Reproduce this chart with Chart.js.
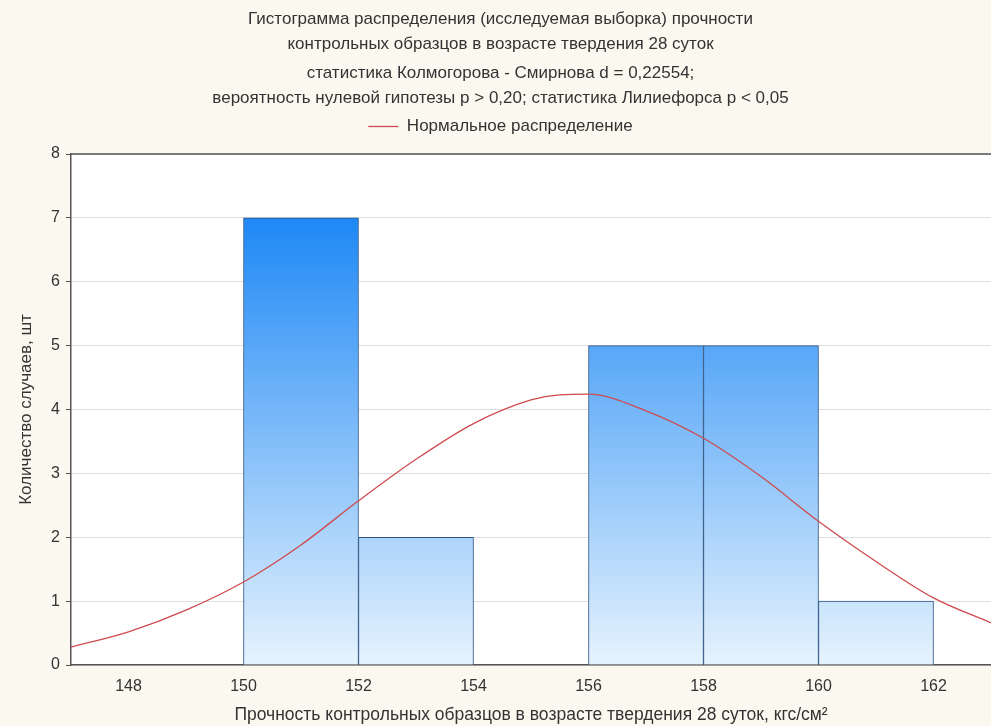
<!DOCTYPE html>
<html>
<head>
<meta charset="utf-8">
<script src="https://cdn.jsdelivr.net/npm/chart.js@4.4.1/dist/chart.umd.min.js"></script>
<style>
  html, body { margin: 0; padding: 0; background: #fbf8ef; }
  #wrap { width: 991px; height: 726px; }
</style>
</head>
<body>
<div id="wrap"><canvas id="hist" width="991" height="726"></canvas></div>
<script>
// histogram bins (centre of each 2-unit bin) and counts
const binCenters = [151, 153, 157, 159, 161];
const binCounts = [7, 2, 5, 5, 1];

// fitted normal curve
const curveX = [147, 148, 149, 150, 151, 152, 153, 154, 155, 155.5, 156, 157, 158, 159, 160, 161, 162, 163];
const curveY = [0.28, 0.52, 0.86, 1.30, 1.88, 2.57, 3.22, 3.78, 4.15, 4.23, 4.24, 3.98, 3.55, 2.95, 2.25, 1.62, 1.05, 0.66];

const xTicks = [148, 150, 152, 154, 156, 158, 160, 162];

const titleLines = [
    'Гистограмма распределения (исследуемая выборка) прочности',
    'контрольных образцов в возрасте твердения 28 суток'
];
const subtitleLines = [
    'статистика Колмогорова - Смирнова d = 0,22554;',
    'вероятность нулевой гипотезы p > 0,20; статистика Лилиефорса p < 0,05'
];

const FONT = 'Liberation Sans, Arial, sans-serif';
const ctx = document.getElementById('hist');

// white plot area on cream background + top frame line
const plotFrame = {
    id: 'plotFrame',
    beforeDraw(chart) {
        const { ctx, chartArea: a } = chart;
        ctx.save();
        ctx.fillStyle = '#fbf8ef';
        ctx.fillRect(0, 0, chart.width, chart.height);
        ctx.fillStyle = '#ffffff';
        ctx.fillRect(a.left, a.top, a.right - a.left, a.bottom - a.top);
        ctx.restore();
    },
    afterDraw(chart) {
        const { ctx, chartArea: a } = chart;
        ctx.save();
        ctx.strokeStyle = '#555';
        ctx.lineWidth = 1.5;
        ctx.beginPath();
        ctx.moveTo(a.left, a.top);
        ctx.lineTo(a.right, a.top);
        ctx.stroke();
        ctx.restore();
    }
};

// extra room under the legend
const legendGap = {
    id: 'legendGap',
    beforeInit(chart) {
        const fit = chart.legend.fit;
        chart.legend.fit = function () {
            fit.bind(chart.legend)();
            this.height += 9;
        };
    }
};

new Chart(ctx, {
    data: {
        datasets: [{
            type: 'line',
            label: 'Нормальное распределение',
            data: curveX.map((x, i) => ({ x: x, y: curveY[i] })),
            borderColor: '#cf4a4f',
            backgroundColor: '#cf4a4f',
            borderWidth: 1.3,
            pointRadius: 0,
            pointStyle: 'line',
            cubicInterpolationMode: 'monotone',
            order: 0
        }, {
            type: 'bar',
            label: 'bins',
            data: binCenters.map((x, i) => ({ x: x, y: binCounts[i] })),
            backgroundColor: (c) => {
                const chart = c.chart;
                if (!chart.chartArea) return '#5aa8f7';
                const ys = chart.scales.y;
                const g = chart.ctx.createLinearGradient(0, ys.getPixelForValue(7), 0, ys.getPixelForValue(0));
                g.addColorStop(0, '#1e88f5');
                g.addColorStop(1, '#e6f3fd');
                return g;
            },
            borderColor: '#2c5384',
            borderWidth: 1,
            barPercentage: 1,
            categoryPercentage: 1,
            order: 1
        }]
    },
    options: {
        responsive: false,
        animation: false,
        layout: { padding: { left: 10, right: 0, top: 0, bottom: 0 } },
        plugins: {
            title: {
                display: true,
                text: titleLines,
                color: '#333',
                font: { family: FONT, size: 17, weight: 'normal', lineHeight: 25 / 17 },
                padding: { top: 7, bottom: 4 }
            },
            subtitle: {
                display: true,
                text: subtitleLines,
                color: '#333',
                font: { family: FONT, size: 17, weight: 'normal', lineHeight: 25 / 17 },
                padding: { top: 0, bottom: 0 }
            },
            legend: {
                labels: {
                    filter: (item) => item.datasetIndex === 0,
                    usePointStyle: true,
                    pointStyleWidth: 30,
                    color: '#333',
                    padding: 7,
                    font: { family: FONT, size: 17 }
                }
            },
            tooltip: { enabled: false }
        },
        scales: {
            x: {
                type: 'linear',
                min: 147,
                max: 163,
                offset: false,
                afterFit: (s) => { s.height = 61; },
                afterBuildTicks: (s) => { s.ticks = xTicks.map(v => ({ value: v })); },
                ticks: {
                    color: '#333',
                    padding: 12,
                    font: { family: FONT, size: 16 }
                },
                grid: { display: false, drawTicks: false },
                border: { display: true, color: '#555', width: 1.5 },
                title: {
                    display: true,
                    text: 'Прочность контрольных образцов в возрасте твердения 28 суток, кгс/см²',
                    color: '#333',
                    font: { family: FONT, size: 17.5 },
                    padding: { top: 0, bottom: 0 }
                }
            },
            y: {
                min: 0,
                max: 8,
                afterFit: (s) => { s.width = 61; },
                ticks: {
                    stepSize: 1,
                    color: '#333',
                    padding: 6,
                    font: { family: FONT, size: 16 }
                },
                grid: { color: '#dedede', tickColor: '#555', tickLength: 5 },
                border: { display: true, color: '#555', width: 1.5 },
                title: {
                    display: true,
                    text: 'Количество случаев, шт',
                    color: '#333',
                    font: { family: FONT, size: 17 },
                    padding: { top: 6, bottom: 0 }
                }
            }
        }
    },
    plugins: [plotFrame, legendGap]
});
</script>
</body>
</html>
